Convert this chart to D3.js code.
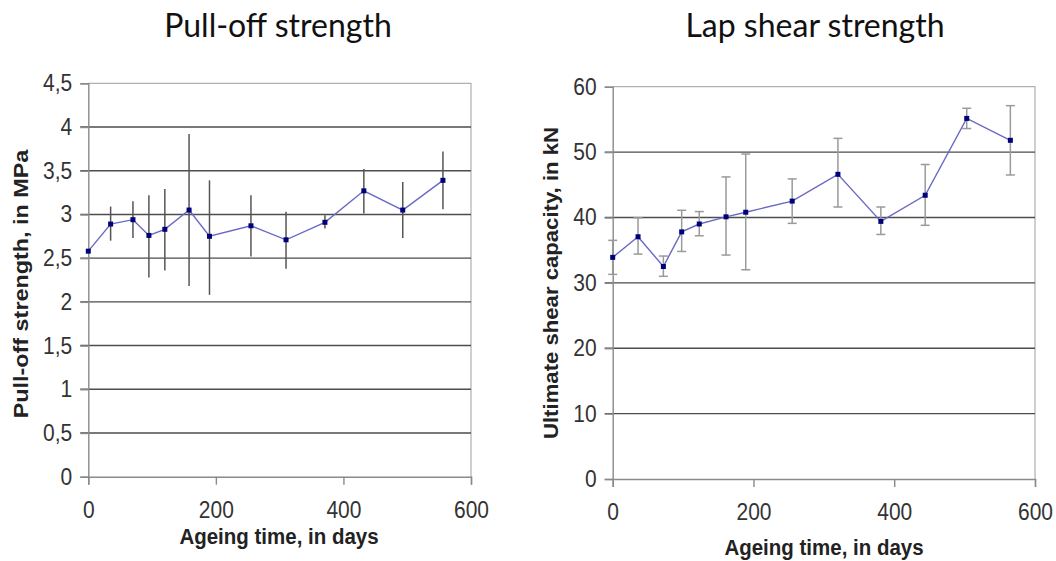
<!DOCTYPE html>
<html><head><meta charset="utf-8">
<script src="https://cdn.jsdelivr.net/npm/d3@7"></script>
<style>body{margin:0;background:#fff}svg{display:block}</style>
</head><body>
<svg id="c" width="1056" height="561"></svg>
<script>
// ---- data ----
const pullDays = [0, 35, 70, 95, 120, 158, 190, 255, 310, 371, 432, 493, 556];
const pullMean = [2.58, 2.89, 2.94, 2.76, 2.83, 3.05, 2.75, 2.87, 2.71, 2.91, 3.27, 3.05, 3.39];
const pullHigh = [2.58, 3.09, 3.15, 3.22, 3.29, 3.92, 3.39, 3.22, 3.03, 2.99, 3.52, 3.37, 3.72];
const pullLow  = [2.58, 2.70, 2.73, 2.28, 2.36, 2.18, 2.08, 2.52, 2.38, 2.84, 3.01, 2.73, 3.06];
const pullYTicks = [0, 0.5, 1, 1.5, 2, 2.5, 3, 3.5, 4, 4.5];

const lapDays = [0, 36, 72, 98, 123, 161, 189, 255, 320, 381, 444, 503, 565];
const lapMean = [33.9, 37.05, 32.5, 37.8, 39.0, 40.1, 40.8, 42.5, 46.6, 39.4, 43.4, 55.15, 51.8];
const lapHigh = [36.5, 39.95, 34.1, 41.1, 40.9, 46.2, 49.7, 45.9, 52.1, 41.6, 48.1, 56.7, 57.1];
const lapLow  = [31.3, 34.4, 31.0, 34.8, 37.2, 34.25, 32.0, 39.1, 41.6, 37.4, 38.8, 53.6, 46.5];
const lapYTicks = [0, 10, 20, 30, 40, 50, 60];

const xTicks = [0, 200, 400, 600];
const titles = ["Pull-off strength", "Lap shear strength"];
const yTitles = ["Pull-off strength, in MPa", "Ultimate shear capacity, in kN"];
const xTitle = "Ageing time, in days";

const loc = d3.formatLocale({decimal: ",", thousands: ".", grouping: [3], currency: ["", ""]});
const fmt = v => loc.format("~g")(v);

const svg = d3.select("#c");

function panel(cfg) {
  const {days, mean, high, low, yTicks, yMax, xr, yr, caps, barColor, title, yTitle,
         titleX, xTitleX, xTitleY, yTitleX, yTitleY, yTitleScale, tickLabelDY} = cfg;
  const x = d3.scaleLinear().domain([0, 600]).range(xr);
  const y = d3.scaleLinear().domain([0, yMax]).range(yr);
  const g = svg.append("g");

  // plot border (top & right light grey)
  g.append("path")
    .attr("d", `M${xr[0]},${yr[1]}H${xr[1]}V${yr[0]}`)
    .attr("fill", "none").attr("stroke", "#b0b0b0").attr("stroke-width", 1.2);

  // gridlines
  g.selectAll(".grid").data(yTicks.filter(t => t > 0 && t < yMax)).join("line")
    .attr("x1", xr[0] - 8).attr("x2", xr[1])
    .attr("y1", d => y(d)).attr("y2", d => y(d))
    .attr("stroke", "#4d4d4d").attr("stroke-width", 1.4);

  // y axis
  const ya = g.append("g").attr("transform", `translate(${xr[0]},0)`)
    .call(d3.axisLeft(y).tickValues(yTicks).tickSize(8).tickPadding(8).tickFormat(fmt));
  ya.select(".domain").attr("stroke", "#8a8a8a").attr("stroke-width", 1.4);
  ya.selectAll(".tick line").attr("stroke", "#8a8a8a").attr("stroke-width", 1.4);
  ya.selectAll(".tick text")
    .attr("font-family", "Liberation Sans, Arial, sans-serif").attr("font-size", 21)
    .attr("fill", "#333").attr("transform", "scale(1,1.12)").attr("dy", "0.32em");

  // x axis
  const xa = g.append("g").attr("transform", `translate(0,${yr[0]})`)
    .call(d3.axisBottom(x).tickValues(xTicks).tickSize(8).tickPadding(0).tickFormat(d3.format("d")));
  xa.select(".domain").attr("stroke", "#8a8a8a").attr("stroke-width", 1.4);
  xa.selectAll(".tick line").attr("stroke", "#8a8a8a").attr("stroke-width", 1.4);
  xa.selectAll(".tick text")
    .attr("font-family", "Liberation Sans, Arial, sans-serif").attr("font-size", 21)
    .attr("fill", "#333").attr("y", 0).attr("dy", 0)
    .attr("transform", `translate(0,${tickLabelDY}) scale(1,1.12)`);

  // error bars
  const idx = d3.range(days.length);
  g.selectAll(".eb").data(idx).join("line")
    .attr("x1", i => x(days[i])).attr("x2", i => x(days[i]))
    .attr("y1", i => y(high[i])).attr("y2", i => y(low[i]))
    .attr("stroke", barColor).attr("stroke-width", 1.5);
  if (caps) {
    [high, low].forEach(arr => {
      g.selectAll(null).data(idx.filter(i => arr[i] !== mean[i])).join("line")
        .attr("x1", i => x(days[i]) - 4.5).attr("x2", i => x(days[i]) + 4.5)
        .attr("y1", i => y(arr[i])).attr("y2", i => y(arr[i]))
        .attr("stroke", barColor).attr("stroke-width", 1.5);
    });
  }

  // line
  g.append("path").datum(idx)
    .attr("d", d3.line().x(i => x(days[i])).y(i => y(mean[i])))
    .attr("fill", "none").attr("stroke", "#6a6ac4").attr("stroke-width", 1.4);
  g.selectAll(".pt").data(idx).join("rect")
    .attr("x", i => x(days[i]) - 2.5).attr("y", i => y(mean[i]) - 2.5)
    .attr("width", 5).attr("height", 5).attr("fill", "#00007a");

  // titles
  svg.append("text").attr("x", titleX).attr("y", 37).attr("text-anchor", "middle")
    .attr("font-family", "Lato, Open Sans, sans-serif").attr("font-size", 32)
    .attr("fill", "#111").text(title);
  svg.append("text").attr("text-anchor", "middle")
    .attr("transform", `translate(${xTitleX},${xTitleY}) scale(1,1.12)`)
    .attr("font-family", "Liberation Sans, Arial, sans-serif").attr("font-size", 20.5)
    .attr("font-weight", "bold").attr("fill", "#222").text(xTitle);
  svg.append("text").attr("text-anchor", "middle")
    .attr("transform", `translate(${yTitleX},${yTitleY}) rotate(-90) scale(${yTitleScale},1)`)
    .attr("font-family", "Liberation Sans, Arial, sans-serif").attr("font-size", 20.5)
    .attr("font-weight", "bold").attr("fill", "#222").text(yTitle);
}

panel({days: pullDays, mean: pullMean, high: pullHigh, low: pullLow, yTicks: pullYTicks, yMax: 4.5,
  xr: [88.3, 471], yr: [476.7, 83.3], caps: false, barColor: "#555",
  title: titles[0], yTitle: yTitles[0], titleX: 278, xTitleX: 279, xTitleY: 544,
  yTitleX: 28, yTitleY: 284, yTitleScale: 1.14, tickLabelDY: 41});

panel({days: lapDays, mean: lapMean, high: lapHigh, low: lapLow, yTicks: lapYTicks, yMax: 60,
  xr: [612.7, 1035], yr: [479, 86.7], caps: true, barColor: "#9a9a9a",
  title: titles[1], yTitle: yTitles[1], titleX: 815, xTitleX: 824, xTitleY: 555,
  yTitleX: 558, yTitleY: 283, yTitleScale: 1.08, tickLabelDY: 41});
</script>
</body></html>
